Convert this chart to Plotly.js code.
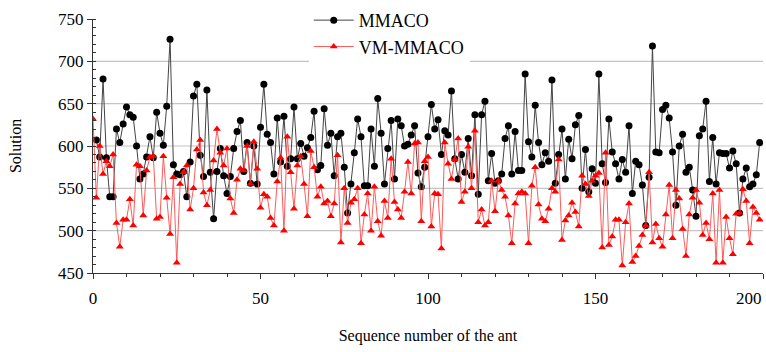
<!DOCTYPE html>
<html>
<head>
<meta charset="utf-8">
<script src="https://cdn.plot.ly/plotly-3.0.1.min.js"></script>
<style>html,body{margin:0;padding:0;background:#fff;}#chart{width:766px;height:352px;}</style>
</head>
<body>
<div id="chart"></div>
<script>
const seriesNames = ["MMACO", "VM-MMACO"];
const mmacoStart = 1;
const mmaco = [607,587,679,586,540,540,620,604,626,646,637,634,600,561,567,587,611,586,640,615,
601,647,726,578,567,566,570,540,581,659,673,589,564,666,569,514,570,597,565,544,
564,597,617,630,570,604,556,600,555,622,673,614,604,567,633,581,635,576,585,646,
585,603,588,598,610,641,572,577,644,601,615,565,611,615,575,521,555,592,632,611,
553,553,620,576,656,615,555,597,630,561,632,624,600,602,613,624,568,552,575,611,
649,620,631,590,618,613,665,585,561,590,569,609,565,637,543,637,653,559,591,556,
559,567,609,624,567,617,571,571,685,605,587,648,604,578,592,582,678,556,590,620,
561,608,585,625,636,550,596,546,573,556,685,579,557,632,593,579,561,584,569,624,
544,582,578,554,506,563,718,593,592,643,648,633,593,530,600,614,569,575,548,517,
612,620,653,558,610,555,592,591,591,574,594,579,521,561,574,552,555,566,604];
const vmStart = 0;
const vmmaco = [632,539,600,567,582,576,590,509,481,513,513,537,506,578,576,518,571,587,588,514,
516,588,539,496,563,462,555,569,577,525,550,596,607,545,530,548,583,620,592,577,
597,538,521,560,573,571,600,555,605,573,527,543,540,515,506,558,586,500,611,569,
526,577,588,555,517,594,575,540,552,532,535,517,532,589,486,550,509,533,537,550,
485,519,544,500,552,511,494,535,515,585,534,525,515,546,581,544,603,604,511,582,
587,505,544,543,479,604,579,561,584,609,534,546,599,550,618,510,525,506,510,559,
523,559,548,540,518,485,532,544,546,544,485,553,575,531,514,511,526,550,546,584,
489,512,518,533,522,505,565,555,541,559,565,568,480,592,483,493,513,513,459,510,
532,463,470,482,495,506,569,486,508,491,481,519,554,491,548,538,502,470,519,539,
548,533,495,509,490,544,462,548,462,516,491,472,520,521,549,535,485,528,521,513];
const gridValues = [500, 550, 600, 650, 700];
const xTicks = [0, 50, 100, 150, 200];
const xTickText = ["0", "50", "100", "150", "200"];
const yTicks = [450, 500, 550, 600, 650, 700, 750];

const xm = mmaco.map((v, i) => i + mmacoStart);
const xv = vmmaco.map((v, i) => i + vmStart);
const serif = "Liberation Serif";
const lastTick = xTicks[xTicks.length - 1];

const traces = [
  {x: xm, y: mmaco, name: seriesNames[0], type: 'scatter', mode: 'lines+markers',
   line: {color: '#444', width: 1}, marker: {color: '#000', size: 7, symbol: 'circle'}},
  {x: xv, y: vmmaco, name: seriesNames[1], type: 'scatter', mode: 'lines+markers',
   line: {color: '#ff5a5a', width: 1}, marker: {color: '#ff0000', size: 7, symbol: 'triangle-up'}}
];

const layout = {
  width: 766, height: 352,
  margin: {l: 93, r: 3, t: 18, b: 79},
  paper_bgcolor: '#fff', plot_bgcolor: '#fff',
  font: {family: serif, size: 16, color: '#000'},
  showlegend: true,
  legend: {x: 0.322, y: 1.063, xanchor: 'left', yanchor: 'top', bgcolor: 'rgba(255,255,255,1)',
           font: {family: serif, size: 18, color: '#000'}, tracegroupgap: 0, itemwidth: 40},
  xaxis: {range: [0, 200], tickvals: xTicks, ticktext: xTickText.map((t, i) => i === xTicks.length - 1 ? '' : t),
          showgrid: false, zeroline: false,
          showline: true, linecolor: '#333', linewidth: 1, ticks: 'outside', ticklen: 5,
          tickcolor: '#333', ticklabelstandoff: 5,
          tickfont: {family: serif, size: 17, color: '#000'},
          minor: {dtick: 10, ticks: 'outside', ticklen: 3, tickcolor: '#333', showgrid: false},
          title: {text: 'Sequence number of the ant', font: {family: serif, size: 16, color: '#000'}, standoff: 22}},
  yaxis: {range: [450, 750], tickvals: yTicks, showgrid: false, zeroline: false,
          showline: true, linecolor: '#333', linewidth: 1, ticks: 'outside', ticklen: 5,
          tickcolor: '#333',
          tickfont: {family: serif, size: 17, color: '#000'},
          minor: {dtick: 10, ticks: 'inside', ticklen: 3, tickcolor: '#333', showgrid: false},
          title: {text: 'Solution', font: {family: serif, size: 16, color: '#000'}, standoff: 32}},
  annotations: [{x: lastTick, xref: 'x', y: 0, yref: 'paper', yanchor: 'middle', xanchor: 'right',
                 yshift: -25, xshift: 1, showarrow: false, text: xTickText[xTickText.length - 1],
                 font: {family: serif, size: 17, color: '#000'}}],
  shapes: gridValues.map(v => ({type: 'line', xref: 'paper', x0: 0, x1: 1, yref: 'y', y0: v, y1: v,
           line: {color: '#c4c4c4', width: 1.2}, layer: 'below'}))
};

Plotly.newPlot('chart', traces, layout, {displayModeBar: false, staticPlot: true});
</script>
</body>
</html>
